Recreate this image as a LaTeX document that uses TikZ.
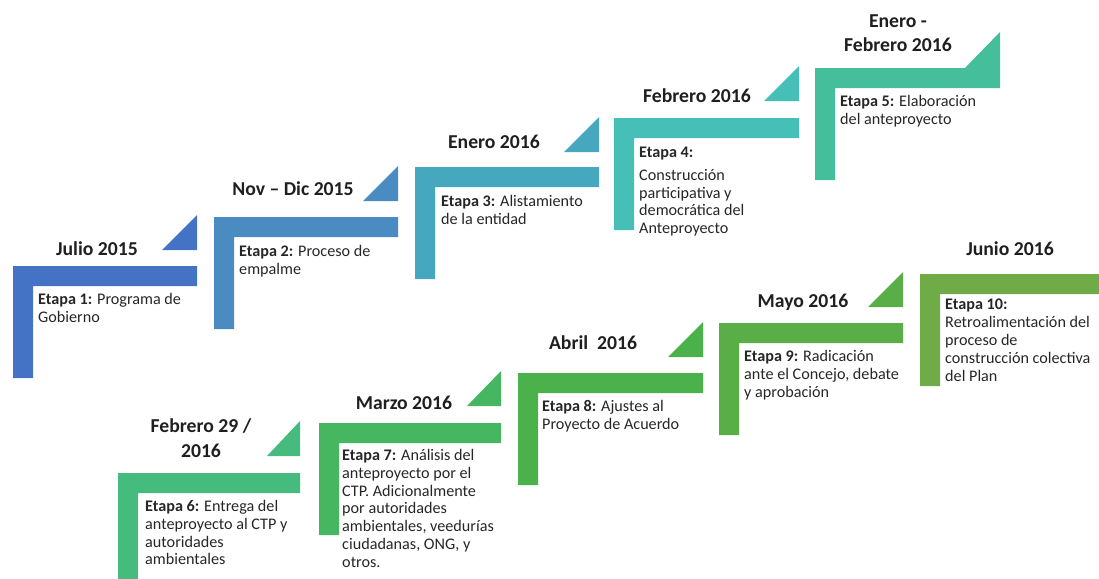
\documentclass[tikz,border=0pt]{standalone}
\usepackage{fontspec}
\setmainfont{Carlito}
\definecolor{paso1}{HTML}{4472C4}
\definecolor{paso2}{HTML}{4A8CC2}
\definecolor{paso3}{HTML}{45A8BF}
\definecolor{paso4}{HTML}{45BFB8}
\definecolor{paso5}{HTML}{44BE9B}
\definecolor{paso6}{HTML}{45BB7D}
\definecolor{paso7}{HTML}{47B661}
\definecolor{paso8}{HTML}{4BB14B}
\definecolor{paso9}{HTML}{5AAE48}
\definecolor{paso10}{HTML}{6FAC47}
\tikzset{
  fecha/.style={font=\fontsize{16.8}{21}\selectfont\bfseries, text=black!88, align=center, inner sep=0pt},
  etapa/.style={font=\fontsize{13.8}{15.2}\selectfont, text=black!85, align=left, anchor=north west, inner sep=0pt}
}

\begin{document}
\begin{tikzpicture}[x=0.03cm, y=-0.03cm]
		\useasboundingbox (0,0) rectangle (1099,578);
		\clip (0,0) rectangle (1099,578);
		% upper row
		\fill [paso1] (13,266) -- ++(184,0) -- ++(0,20) -- ++(-164,0) -- ++(0,92) -- ++(-20,0) -- cycle;
		\fill [paso1] (197,250) -- ++(0,-35) -- ++(-35,35) -- cycle;
		\fill [paso2] (214,217) -- ++(184,0) -- ++(0,20) -- ++(-164,0) -- ++(0,92) -- ++(-20,0) -- cycle;
		\fill [paso2] (398,201) -- ++(0,-35) -- ++(-35,35) -- cycle;
		\fill [paso3] (415,167) -- ++(184,0) -- ++(0,20) -- ++(-164,0) -- ++(0,92) -- ++(-20,0) -- cycle;
		\fill [paso3] (599,152) -- ++(0,-35) -- ++(-35,35) -- cycle;
		\fill [paso4] (614,118) -- ++(185,0) -- ++(0,20) -- ++(-165,0) -- ++(0,92) -- ++(-20,0) -- cycle;
		\fill [paso4] (799,101) -- ++(0,-35) -- ++(-35,35) -- cycle;
		\fill [paso5] (815,68) -- ++(185,0) -- ++(0,20) -- ++(-165,0) -- ++(0,92) -- ++(-20,0) -- cycle;
		\fill [paso5] (1000,68) -- ++(0,-36) -- ++(-35,36) -- cycle;
		% lower row
		\fill [paso6] (118,473) -- ++(182,0) -- ++(0,20) -- ++(-162,0) -- ++(0,92) -- ++(-20,0) -- cycle;
		\fill [paso6] (300,456) -- ++(0,-35) -- ++(-33,35) -- cycle;
		\fill [paso7] (319,423) -- ++(182,0) -- ++(0,20) -- ++(-162,0) -- ++(0,92) -- ++(-20,0) -- cycle;
		\fill [paso7] (501,406) -- ++(0,-35) -- ++(-34,35) -- cycle;
		\fill [paso8] (518,373) -- ++(185,0) -- ++(0,20) -- ++(-165,0) -- ++(0,92) -- ++(-20,0) -- cycle;
		\fill [paso8] (703,357) -- ++(0,-35) -- ++(-35,35) -- cycle;
		\fill [paso9] (719,323) -- ++(184,0) -- ++(0,20) -- ++(-164,0) -- ++(0,92) -- ++(-20,0) -- cycle;
		\fill [paso9] (903,307) -- ++(0,-35) -- ++(-35,35) -- cycle;
		\fill [paso10] (920,274) -- ++(184,0) -- ++(0,20) -- ++(-164,0) -- ++(0,92) -- ++(-20,0) -- cycle;
		% dates
		\node [fecha] (fecha1) at (97,249) {Julio 2015};
		\node [fecha] (fecha2) at (293,189) {Nov -- Dic 2015};
		\node [fecha] (fecha3) at (494,142) {Enero 2016};
		\node [fecha] (fecha4) at (697,96) {Febrero 2016};
		\node [fecha] (fecha5) at (898,33) {Enero -\\Febrero 2016};
		\node [fecha] (fecha6) at (201,438) {Febrero 29 /\\2016};
		\node [fecha] (fecha7) at (404,403) {Marzo 2016};
		\node [fecha] (fecha8) at (593,343) {Abril\ \ 2016};
		\node [fecha] (fecha9) at (803,302) {Mayo 2016};
		\node [fecha] (fecha10) at (1010,249) {Junio 2016};
		% stages
		\node [etapa] (etapa1) at (38,293) {\textbf{Etapa 1:} Programa de\\Gobierno};
		\node [etapa] (etapa2) at (239,245) {\textbf{Etapa 2:} Proceso de\\empalme};
		\node [etapa] (etapa3) at (441,195) {\textbf{Etapa 3:} Alistamiento\\de la entidad};
		\node [etapa] (etapa4) at (639,147) {\textbf{Etapa 4:}\\[4pt]Construcción\\participativa y\\democrática del\\Anteproyecto};
		\node [etapa] (etapa5) at (840,95) {\textbf{Etapa 5:} Elaboración\\del anteproyecto};
		\node [etapa] (etapa6) at (145,500) {\textbf{Etapa 6:} Entrega del\\anteproyecto al CTP y\\autoridades\\ambientales};
		\node [etapa] (etapa7) at (342,449) {\textbf{Etapa 7:} Análisis del\\anteproyecto por el\\CTP. Adicionalmente\\por autoridades\\ambientales, veedurías\\ciudadanas, ONG, y\\otros.};
		\node [etapa] (etapa8) at (542,400) {\textbf{Etapa 8:} Ajustes al\\Proyecto de Acuerdo};
		\node [etapa] (etapa9) at (744,350) {\textbf{Etapa 9:} Radicación\\ante el Concejo, debate\\y aprobación};
		\node [etapa] (etapa10) at (945,299) {\textbf{Etapa 10:}\\Retroalimentación del\\proceso de\\construcción colectiva\\del Plan};
	\end{tikzpicture}
\end{document}
